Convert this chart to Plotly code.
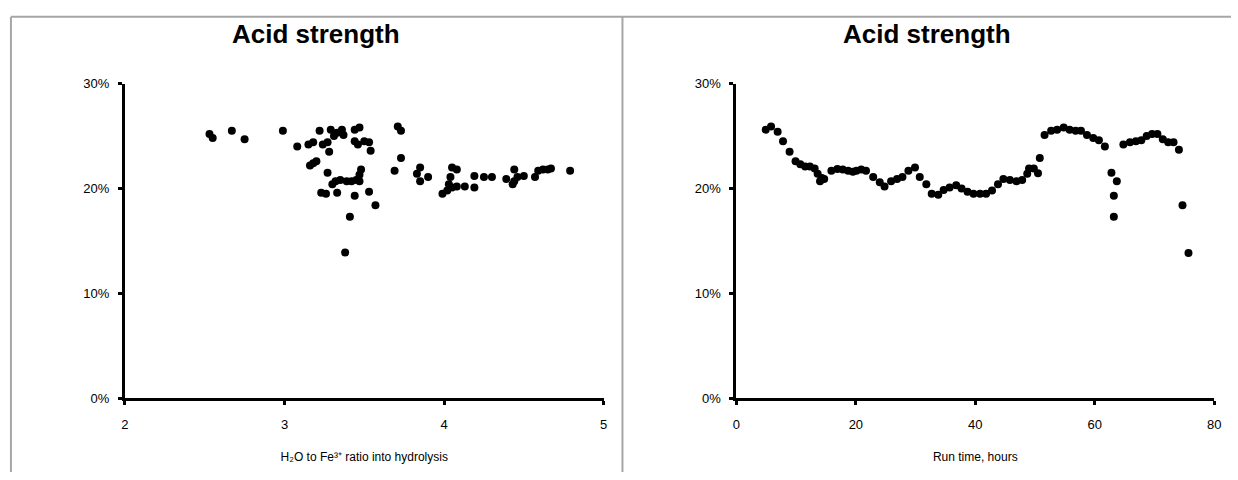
import plotly.graph_objects as go

# Acid strength vs H2O:Fe3+ ratio into hydrolysis
ratio = [2.53, 2.55, 2.67, 2.75, 2.99, 3.08, 3.15, 3.18, 3.22, 3.24, 3.27, 3.28, 3.29,
         3.31, 3.33, 3.36, 3.37, 3.44, 3.47, 3.44, 3.46, 3.50, 3.53, 3.54, 3.16, 3.18,
         3.20, 3.27, 3.32, 3.35, 3.39, 3.42, 3.45, 3.47, 3.48, 3.47, 3.30, 3.23, 3.26,
         3.33, 3.44, 3.53, 3.57, 3.41, 3.38, 3.69, 3.71, 3.73, 3.73, 3.83, 3.85, 3.85,
         3.90, 3.99, 4.02, 4.03, 4.04, 4.05, 4.05, 4.08, 4.08, 4.13, 4.19, 4.19, 4.25,
         4.30, 4.39, 4.43, 4.44, 4.44, 4.46, 4.50, 4.57, 4.59, 4.62, 4.65, 4.67, 4.79]
acid_by_ratio = [25.2, 24.8, 25.5, 24.7, 25.5, 24.0, 24.2, 24.4, 25.5, 24.2, 24.4, 23.5, 25.6,
                 25.0, 25.3, 25.6, 25.1, 25.6, 25.8, 24.5, 24.2, 24.5, 24.4, 23.6, 22.2, 22.4,
                 22.6, 21.5, 20.7, 20.8, 20.7, 20.7, 20.8, 21.3, 21.8, 20.7, 20.4, 19.6, 19.5,
                 19.6, 19.3, 19.7, 18.4, 17.3, 13.9, 21.7, 25.9, 25.5, 22.9, 21.4, 22.0, 20.7,
                 21.1, 19.5, 19.8, 20.4, 21.1, 22.0, 20.1, 21.8, 20.2, 20.2, 20.1, 21.2, 21.1,
                 21.1, 20.9, 20.4, 20.7, 21.8, 21.1, 21.2, 21.1, 21.7, 21.8, 21.8, 21.9, 21.7]

# Acid strength vs run time
run_hours = [4.9, 5.8, 6.9, 7.8, 8.9, 9.9, 10.7, 11.5, 12.3, 13.1, 13.6, 14.0, 14.3, 14.7,
             15.9, 16.9, 17.8, 18.7, 19.5, 20.1, 20.9, 21.7, 22.9, 24.0, 24.8, 25.9, 26.9,
             27.8, 28.8, 29.9, 30.7, 31.8, 32.7, 33.8, 34.7, 35.7, 36.8, 37.7, 38.7, 39.7,
             40.8, 41.8, 42.8, 43.8, 44.7, 45.8, 46.9, 47.85, 48.7, 49.0, 49.8, 50.5, 50.8,
             51.6, 52.7, 53.7, 54.8, 55.8, 56.8, 57.7, 58.7, 59.75, 60.7, 61.7, 62.8, 63.2,
             63.2, 63.7, 64.8, 65.9, 66.9, 67.8, 68.7, 69.6, 70.5, 71.4, 72.3, 73.2, 74.1,
             74.7, 75.7]
acid_by_time = [25.6, 25.9, 25.4, 24.5, 23.5, 22.6, 22.3, 22.1, 22.1, 21.9, 21.4, 20.7, 21.0,
                20.9, 21.7, 21.85, 21.8, 21.7, 21.6, 21.7, 21.8, 21.7, 21.1, 20.6, 20.2, 20.7,
                20.9, 21.1, 21.7, 22.0, 21.1, 20.4, 19.5, 19.4, 19.85, 20.1, 20.3, 20.0, 19.7,
                19.5, 19.5, 19.5, 19.8, 20.4, 20.9, 20.8, 20.7, 20.8, 21.4, 21.9, 21.9, 21.45,
                22.9, 25.1, 25.5, 25.6, 25.8, 25.6, 25.5, 25.5, 25.1, 24.8, 24.6, 24.0, 21.5,
                19.3, 17.3, 20.7, 24.2, 24.4, 24.5, 24.6, 25.0, 25.2, 25.2, 24.7, 24.4, 24.4,
                23.7, 18.4, 13.85]

titles = ["Acid strength", "Acid strength"]
x_titles = ["H\u2082O to Fe\u00b3\u207a ratio into hydrolysis", "Run time, hours"]

W, H = 1238, 480
FONT = "Liberation Sans, Arial, sans-serif"

marker = dict(color="black", size=8, line=dict(width=0))

fig = go.Figure()
fig.add_trace(go.Scatter(x=ratio, y=[v / 100 for v in acid_by_ratio], mode="markers",
                         marker=marker, xaxis="x", yaxis="y", showlegend=False))
fig.add_trace(go.Scatter(x=run_hours, y=[v / 100 for v in acid_by_time], mode="markers",
                         marker=marker, xaxis="x2", yaxis="y2", showlegend=False))

def px_x(p):
    return p / W

def px_y(p):
    return 1 - p / H

axis_common = dict(showline=True, linewidth=3, linecolor="black", mirror=False,
                   showgrid=False, zeroline=False, ticks="outside", ticklen=4,
                   tickwidth=3, tickcolor="black",
                   tickfont=dict(family=FONT, size=13, color="black"))

x_ax = dict(axis_common, ticklabelstandoff=8,
            title=dict(font=dict(family=FONT, size=12, color="black"), standoff=22))
y_ax = dict(axis_common, range=[0, 0.30], dtick=0.1, tickformat=".0%",
            ticklabelstandoff=6)

fig.update_layout(
    width=W, height=H,
    margin=dict(l=0, r=0, t=0, b=0),
    paper_bgcolor="white", plot_bgcolor="white",
    xaxis=dict(x_ax, domain=[px_x(122), px_x(605)], range=[2, 5], dtick=1,
               anchor="y", title=dict(x_ax["title"], text=x_titles[0])),
    yaxis=dict(y_ax, domain=[px_y(404), px_y(79)], anchor="x"),
    xaxis2=dict(x_ax, domain=[px_x(739), px_x(1221)], range=[0, 80], dtick=20,
                anchor="y2", title=dict(x_ax["title"], text=x_titles[1])),
    yaxis2=dict(y_ax, domain=[px_y(404), px_y(79)], anchor="x2"),
)

# chart titles
for cx, t in zip([315, 931], titles):
    fig.add_annotation(x=px_x(cx), y=px_y(28), xref="paper", yref="paper",
                       text=f"<b>{t}</b>", showarrow=False, xanchor="center",
                       yanchor="middle", font=dict(family=FONT, size=26, color="black"))

# chart-area frames
frame = dict(color="#a6a6a6", width=2)
fig.add_shape(type="line", xref="paper", yref="paper", x0=px_x(7), x1=1,
              y0=px_y(10), y1=px_y(10), line=frame)
fig.add_shape(type="line", xref="paper", yref="paper", x0=px_x(7), x1=px_x(7),
              y0=0, y1=px_y(10), line=frame)
fig.add_shape(type="line", xref="paper", yref="paper", x0=px_x(624), x1=px_x(624),
              y0=0, y1=px_y(10), line=frame)

fig.write_html("out.html")
